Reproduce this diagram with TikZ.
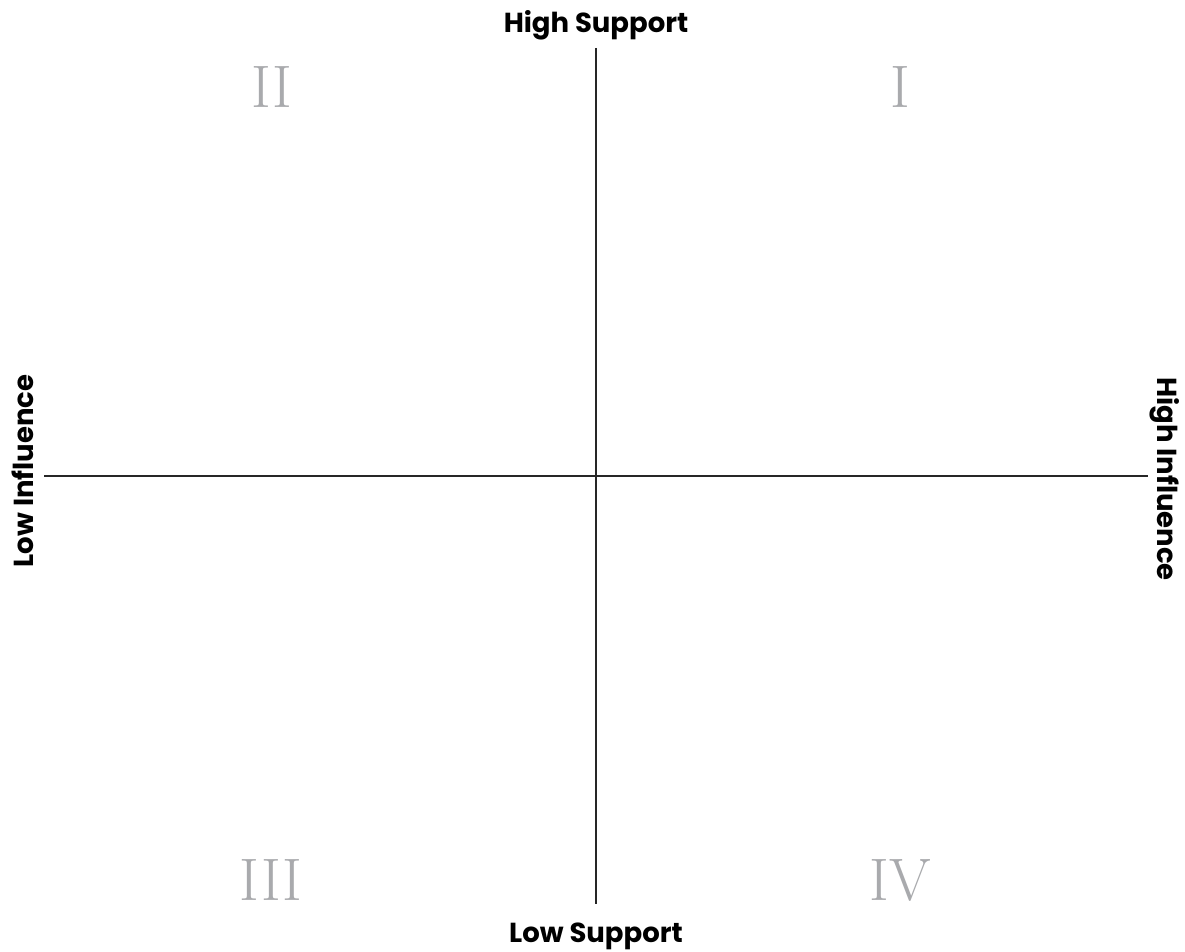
\documentclass[tikz,border=0pt]{standalone}
\usepackage{fontspec}
\newfontfamily\labelfont{Poppins}
\tikzset{
  axis/.style={line width=1.2pt, draw=black!85},
  axlabel/.style={font=\labelfont\bfseries\fontsize{27.5}{30}\selectfont, text=black, inner sep=0pt},
  quad/.style={font=\fontsize{60}{60}\selectfont, text=numgray, inner sep=0pt, anchor=base}
}
\definecolor{numgray}{HTML}{A9AAAD}
\begin{document}
\begin{tikzpicture}[x=1pt,y=-1pt]
\useasboundingbox (0,0) rectangle (1185,952);
\coordinate (top) at (596,48);
\coordinate (bot) at (596,904);
\coordinate (lft) at (44,476);
\coordinate (rgt) at (1148,476);
\draw[axis] (top) -- (bot);
\draw[axis] (lft) -- (rgt);
\node[axlabel, anchor=base] (hs) at (596,33) {High Support};
\node[axlabel, anchor=base] (ls) at (596,942) {Low Support};
\node[axlabel, anchor=base, rotate=90] (li) at (33,471) {Low Influence};
\node[axlabel, anchor=base, rotate=-90] (hi) at (1157,479) {High Influence};
\node[quad] (q2) at (272,108) {II};
\node[quad] (q1) at (900,108) {I};
\node[quad] (q3) at (271,900) {III};
\node[quad] (q4) at (900,900) {IV};
\end{tikzpicture}
\end{document}
